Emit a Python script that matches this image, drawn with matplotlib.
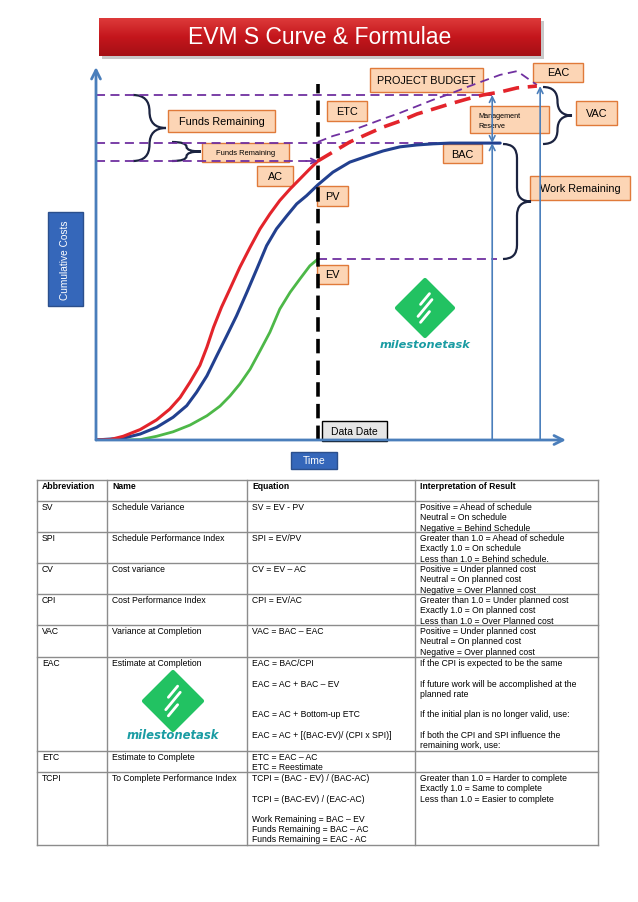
import matplotlib
matplotlib.use("Agg")
import matplotlib.pyplot as plt
import numpy as np
from matplotlib.patches import Rectangle, Polygon, PathPatch
from matplotlib.path import Path
from matplotlib.colors import LinearSegmentedColormap

plt.rcParams["font.family"] = ["Liberation Sans", "DejaVu Sans"]

# ---------------- chart data (time 0..100, cumulative cost 0..100) ----------------
ac_time = [0, 3.0, 5.8, 9.4, 12.9, 15.7, 17.9, 20.0, 22.1, 23.6, 25.0, 26.7, 28.5, 30.6,
           32.8, 34.9, 37.0, 39.1, 41.3, 43.4, 45.5, 47.2]
ac_cost = [0, 0.1, 1.0, 2.8, 5.4, 8.3, 11.4, 15.5, 20.0, 24.9, 30.2, 35.6, 40.5, 46.3,
           51.7, 56.6, 60.6, 64.2, 67.3, 70.0, 72.7, 74.8]
pv_time = [0, 5.8, 9.4, 12.9, 16.4, 19.3, 21.4, 23.6, 25.7, 27.8, 29.9, 32.1, 34.2, 36.3,
           38.4, 40.6, 42.7, 44.8, 47.2, 50.4, 54.0, 57.7, 61.1, 64.7, 68.3, 71.7, 75.3, 86.0]
pv_cost = [0, 0.5, 1.6, 3.4, 6.1, 9.2, 12.8, 17.2, 22.6, 27.9, 33.3, 39.6, 45.8, 52.1,
           56.6, 60.1, 63.3, 65.5, 68.4, 71.8, 74.5, 76.1, 77.5, 78.6, 79.1, 79.4, 79.6, 79.6]
ev_time = [0, 5.8, 9.4, 12.9, 16.4, 20.0, 23.6, 26.4, 28.5, 30.6, 32.8, 34.9, 37.0, 39.1,
           41.3, 43.4, 45.5, 47.2]
ev_cost = [0, 0, 0.1, 1.0, 2.2, 4.0, 6.5, 9.1, 11.8, 15.0, 19.0, 23.9, 28.9, 35.1,
           39.6, 43.2, 46.7, 48.5]
fc_time = [47.2, 50.4, 54.0, 57.7, 61.1, 64.7, 68.3, 71.7, 75.3, 78.9, 82.3, 86.0, 89.6, 93.8]
fc_cost = [74.8, 77.2, 79.9, 82.0, 83.9, 85.5, 87.4, 88.7, 90.1, 91.4, 92.5, 93.3, 94.4, 94.9]
etc_time = [47.2, 50.4, 54.0, 57.7, 61.1, 64.7, 68.3, 71.7, 75.3, 78.9, 82.3, 86.0, 89.6, 93.8]
etc_cost = [79.9, 81.5, 82.8, 84.5, 86.1, 87.7, 89.5, 91.2, 92.8, 94.6, 96.2, 97.9, 98.9, 95.2]

data_date = 47.2
budget_level = 92.5
bac_level = 79.6
ac_level = 74.8
ev_level = 48.5
eac_level = 94.9
budget_time = 84.3
eac_time_point = 94.5
bac_line_end = 86.0
ev_line_end = 85.3

# ---------------- table data ----------------
table_headers = ["Abbreviation", "Name", "Equation", "Interpretation of Result"]
table_abbr = ["SV", "SPI", "CV", "CPI", "VAC", "EAC", "ETC", "TCPI"]
table_name = ["Schedule Variance", "Schedule Performance Index", "Cost variance",
              "Cost Performance Index", "Variance at Completion", "Estimate at Completion",
              "Estimate to Complete", "To Complete Performance Index"]
table_eq = ["SV = EV - PV", "SPI = EV/PV", "CV = EV \u2013 AC", "CPI = EV/AC",
            "VAC = BAC \u2013 EAC",
            "EAC = BAC/CPI\n\nEAC = AC + BAC \u2013 EV\n\n\nEAC = AC + Bottom-up ETC\n\nEAC = AC + [(BAC-EV)/ (CPI x SPI)]",
            "ETC = EAC \u2013 AC\nETC = Reestimate",
            "TCPI = (BAC - EV) / (BAC-AC)\n\nTCPI = (BAC-EV) / (EAC-AC)\n\nWork Remaining = BAC \u2013 EV\nFunds Remaining = BAC \u2013 AC\nFunds Remaining = EAC - AC"]
table_interp = ["Positive = Ahead of schedule\nNeutral = On schedule\nNegative = Behind Schedule",
                "Greater than 1.0 = Ahead of schedule\nExactly 1.0 = On schedule\nLess than 1.0 = Behind schedule.",
                "Positive = Under planned cost\nNeutral = On planned cost\nNegative = Over Planned cost",
                "Greater than 1.0 = Under planned cost\nExactly 1.0 = On planned cost\nLess than 1.0 = Over Planned cost",
                "Positive = Under planned cost\nNeutral = On planned cost\nNegative = Over planned cost",
                "If the CPI is expected to be the same\n\nIf future work will be accomplished at the\nplanned rate\n\nIf the initial plan is no longer valid, use:\n\nIf both the CPI and SPI influence the\nremaining work, use:",
                "",
                "Greater than 1.0 = Harder to complete\nExactly 1.0 = Same to complete\nLess than 1.0 = Easier to complete"]

# ---------------- figure ----------------
W, H = 638, 903
fig = plt.figure(figsize=(W / 100, H / 100), dpi=100)
fig.patch.set_facecolor("white")
ov = fig.add_axes([0, 0, 1, 1])
ov.axis("off")

PEACH = "#FCD5B5"
PEACH_EDGE = "#E07A3A"
PURPLE = "#7030A0"
AXBLUE = "#4A7EBB"
BOXBLUE = "#3567BA"
BRACE = "#1B2340"


def box(x0, y0, x1, y1, text, fs, fc=PEACH, ec=PEACH_EDGE, tc="black", lw=1.0, rot=0):
    ov.add_patch(Rectangle((x0, y0), x1 - x0, y1 - y0, facecolor=fc, edgecolor=ec, lw=lw, zorder=2))
    ov.text((x0 + x1) / 2, (y0 + y1) / 2, text, fontsize=fs, color=tc, ha="center",
            va="center", rotation=rot, zorder=3)


def brace(x0, y0, y1, x1, lw=1.6, color=BRACE):
    xm = (x0 + x1) / 2
    ym = (y0 + y1) / 2
    r = min(abs(x1 - x0) / 2, (y1 - y0) / 4)
    verts = [(x0, y0), (xm, y0), (xm, y0 + r), (xm, ym - r), (xm, ym), (x1, ym),
             (xm, ym), (xm, ym + r), (xm, y1 - r), (xm, y1), (x0, y1)]
    codes = [Path.MOVETO, Path.CURVE3, Path.CURVE3, Path.LINETO, Path.CURVE3, Path.CURVE3,
             Path.CURVE3, Path.CURVE3, Path.LINETO, Path.CURVE3, Path.CURVE3]
    ov.add_patch(PathPatch(Path(verts, codes), fill=False, edgecolor=color, lw=lw, zorder=4))


def logo(cx, cy, h, ty, fs):
    ov.add_patch(Polygon([(cx, cy - h), (cx + h, cy), (cx, cy + h), (cx - h, cy)], closed=True,
                         facecolor="#22C262", edgecolor="#22C262", lw=3, joinstyle="round", zorder=2))
    d = np.array([0.64, -0.77])
    for off, L in zip([-0.32, 0.0, 0.32], [0.5, 0.78, 0.5]):
        c = np.array([cx, cy + off * h])
        p0 = c - d * L * h / 2
        p1 = c + d * L * h / 2
        ov.plot([p0[0], p1[0]], [p0[1], p1[1]], color="white", lw=2.0,
                solid_capstyle="round", zorder=3)
    ov.text(cx, ty, "milestonetask", fontsize=fs, color="#1A9CA3", ha="center", va="center",
            family="DejaVu Sans", fontweight="bold", style="italic", zorder=3)


# Title bar with gradient
grad = np.linspace(0, 1, 64).reshape(-1, 1)
cmap = LinearSegmentedColormap.from_list("t", ["#DD3A3A", "#C4161C", "#A51015"])
ov.add_patch(Rectangle((102, 22), 442, 38, facecolor="#C8C8C8", edgecolor="none", zorder=0))
ov.imshow(grad, extent=(99, 541, 57, 19), aspect="auto", cmap=cmap, zorder=1)
ov.text(320, 38, "EVM S Curve & Formulae", fontsize=16.5, color="white", ha="center",
        va="center", zorder=3)

# Side labels
box(48, 213, 83, 307, "Cumulative Costs", 7.3, fc=BOXBLUE, ec="#2B4F8C", tc="white", rot=90)
box(291, 453, 337, 470, "Time", 7.5, fc=BOXBLUE, ec="#2B4F8C", tc="white")
box(322, 422, 387, 442, "Data Date", 7.5, fc="#E6E6E6", ec="black")

# Annotation boxes
box(370, 69, 483, 93, "PROJECT BUDGET", 7.8)
box(533, 64, 583, 83, "EAC", 7.8)
box(327, 102, 367, 122, "ETC", 7.8)
ov.add_patch(Rectangle((470, 107), 79, 27, facecolor=PEACH, edgecolor=PEACH_EDGE, lw=1.0, zorder=2))
ov.text(478, 116.5, "Management", fontsize=5.2, ha="left", va="center", zorder=3)
ov.text(478, 126.5, "Reserve", fontsize=5.2, ha="left", va="center", zorder=3)
box(576, 102, 617, 126, "VAC", 7.8)
box(443, 145, 482, 164, "BAC", 7.8)
box(530, 177, 630, 201, "Work Remaining", 7.8)
box(168, 111, 275, 133, "Funds Remaining", 7.8)
box(202, 144, 289, 163, "Funds Remaining", 5.4)
box(257, 167, 293, 187, "AC", 7.8)
box(317, 187, 348, 207, "PV", 7.8)
box(317, 266, 348, 285, "EV", 7.8)

# Braces
brace(133, 96, 162, 166)
brace(172, 143, 162, 201)
brace(543, 88, 145, 572)
brace(503, 145, 260, 531)

# Logos
logo(425, 309, 28, 345, 8.2)
logo(173, 702, 29, 736, 8.4)

# ---------------- table ----------------
col_x = [37, 107, 247, 415, 598]
row_y = [481, 502, 533, 564, 595, 626, 658, 752, 773, 846]
TCOL = "#8C8C8C"
for y in row_y:
    ov.plot([col_x[0], col_x[-1]], [y, y], color=TCOL, lw=1.0, zorder=2)
for x in col_x:
    ov.plot([x, x], [row_y[0], row_y[-1]], color=TCOL, lw=1.0, zorder=2)

LS = 10.2
TFS = 6.2


def cell(ci, top, text, bold=False):
    for j, line in enumerate(text.split("\n")):
        if line:
            ov.text(col_x[ci] + 5, top + 5.8 + j * LS, line, fontsize=TFS, ha="left",
                    va="center", fontweight="bold" if bold else "normal", zorder=3)


for ci, htxt in enumerate(table_headers):
    cell(ci, row_y[0], htxt, bold=True)
for ri in range(len(table_abbr)):
    top = row_y[ri + 1]
    cell(0, top, table_abbr[ri])
    cell(1, top, table_name[ri])
    cell(2, top, table_eq[ri])
    cell(3, top, table_interp[ri])

ov.set_xlim(0, W)
ov.set_ylim(H, 0)

# ---------------- chart axes ----------------
ch = fig.add_axes([96 / W, 1 - 441 / H, 470 / W, 373 / H])
ch.set_xlim(0, 100)
ch.set_ylim(0, 100)
ch.axis("off")
ch.patch.set_alpha(0)

dash_p = (0, (5, 3))
# reference levels
ch.plot([0, budget_time], [budget_level] * 2, color=PURPLE, lw=1.3, ls=dash_p)
ch.plot([0, bac_line_end], [bac_level] * 2, color=PURPLE, lw=1.3, ls=dash_p)
ch.plot([0, data_date - 1.2], [ac_level] * 2, color=PURPLE, lw=1.3, ls=dash_p)
ch.annotate("", xy=(data_date, ac_level), xytext=(data_date - 2.5, ac_level),
            arrowprops=dict(arrowstyle="->", color=PURPLE, lw=1.3, mutation_scale=9,
                            shrinkA=0, shrinkB=0), annotation_clip=False)
ch.plot([data_date, ev_line_end], [ev_level] * 2, color=PURPLE, lw=1.3, ls=dash_p)
ch.plot(etc_time, etc_cost, color=PURPLE, lw=1.3, ls=dash_p)

# vertical guide lines
ch.annotate("", xy=(budget_time, bac_level), xytext=(budget_time, 0),
            arrowprops=dict(arrowstyle="->", color=AXBLUE, lw=1.2, mutation_scale=10,
                            shrinkA=0, shrinkB=0), annotation_clip=False)
ch.annotate("", xy=(budget_time, budget_level), xytext=(budget_time, bac_level),
            arrowprops=dict(arrowstyle="<->", color=AXBLUE, lw=1.2, mutation_scale=10,
                            shrinkA=0, shrinkB=0), annotation_clip=False)
ch.annotate("", xy=(eac_time_point, eac_level), xytext=(eac_time_point, 0),
            arrowprops=dict(arrowstyle="->", color=AXBLUE, lw=1.2, mutation_scale=10,
                            shrinkA=0, shrinkB=0), annotation_clip=False)

# curves
ch.plot(ev_time, ev_cost, color="#4DB848", lw=2.0, solid_capstyle="round")
ch.plot(pv_time, pv_cost, color="#22408F", lw=2.2, solid_capstyle="round")
ch.plot(ac_time, ac_cost, color="#E3242B", lw=2.2, solid_capstyle="round")
ch.plot(fc_time, fc_cost, color="#E3242B", lw=2.6, ls=(0, (4.5, 2.4)))

# data date
ch.plot([data_date, data_date], [0, 95.4], color="black", lw=2.6, ls=(0, (4, 2)))

# axes arrows
for xy in [(0, 100), (100, 0)]:
    ch.annotate("", xy=xy, xytext=(0, 0),
                arrowprops=dict(arrowstyle="->", color=AXBLUE, lw=2.0, mutation_scale=16,
                                shrinkA=0, shrinkB=0), annotation_clip=False)

fig.savefig("out.png", dpi=100, facecolor="white")
